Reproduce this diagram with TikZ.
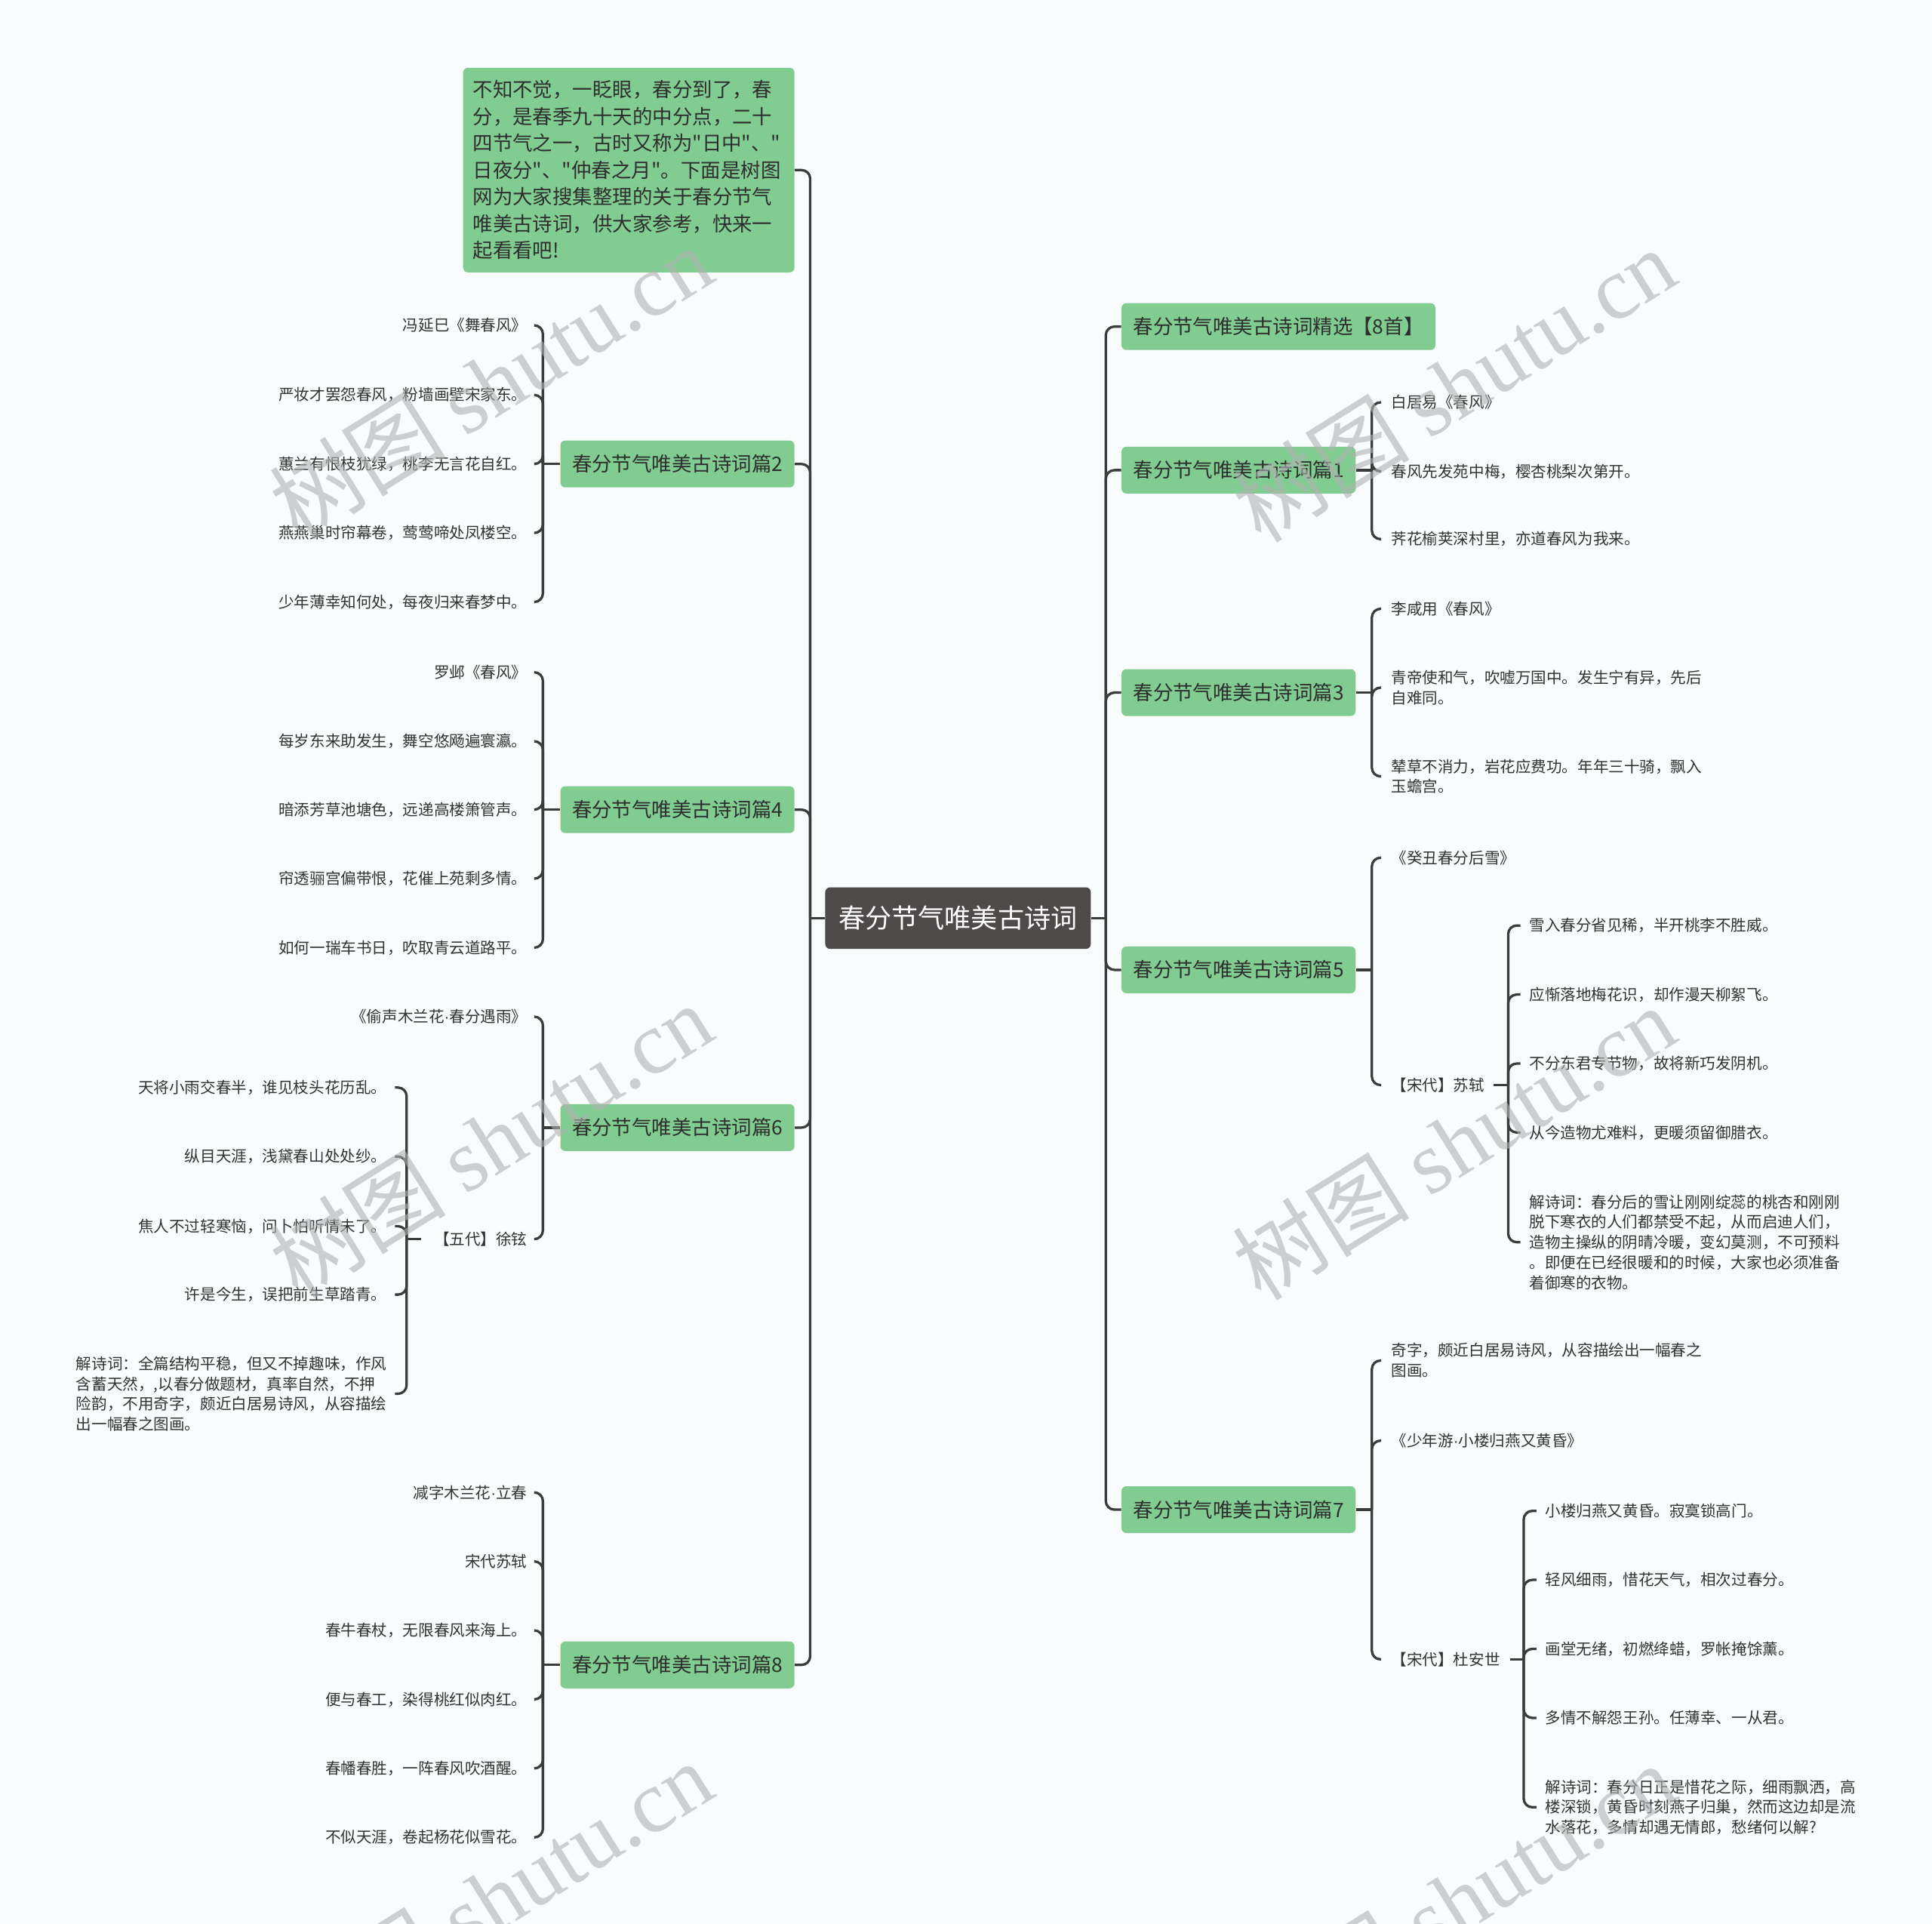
\documentclass[tikz,border=0pt]{standalone}
\usepackage{fontspec}
\setmainfont{Noto Sans CJK SC}
\newfontfamily\wmlatin{Liberation Serif}
\newfontfamily\latinsans{Liberation Sans}
\usepackage{xcolor}
\usepackage{tikz}
\usetikzlibrary{positioning,calc}

% straight quote without the tex-text mapping, and a narrow middle dot
\font\introquotefont="Noto Sans CJK SC" at 16.2pt
\newcommand\sq{{\introquotefont"}}
\newcommand\narrowdot{{\latinsans ·}}

\definecolor{topicgreen}{RGB}{128,204,145}
\definecolor{rootgray}{RGB}{78,74,73}
\definecolor{linegray}{RGB}{60,60,60}
\definecolor{leafink}{RGB}{51,51,51}
\definecolor{paper}{RGB}{248,252,252}
\definecolor{wmgray}{RGB}{175,178,178}

\begin{document}
\begin{tikzpicture}[x=1pt,y=-1pt,
  conn/.style={draw=linegray,line width=2pt,rounded corners=7pt},
  rootbox/.style={fill=rootgray,text=white,rounded corners=4pt,minimum height=50pt,
    inner xsep=11pt,font=\fontsize{21.5}{26}\selectfont},
  topic/.style={fill=topicgreen,text=black!82,rounded corners=4pt,minimum height=38pt,
    inner xsep=9.5pt,font=\fontsize{16.2}{20}\selectfont},
  leaf/.style={text=leafink,inner sep=0pt,align=left,font=\fontsize{12.6}{16.4}\selectfont},
  leafL/.style={leaf,anchor=east},
  leafR/.style={leaf,anchor=west},
  wmark/.style={text=wmgray,opacity=0.6,rotate=32,font=\fontsize{72}{80}\selectfont}]
  % page
  \fill[paper] (0,0) rectangle (1568,1561);
  \useasboundingbox (0,0) rectangle (1568,1561);

  % root with its two trunk stubs
  \node[rootbox] (root) at (777.5,745) {春分节气唯美古诗词};
  \draw[conn] (root.west) -- ++(-12,0);
  \draw[conn] (root.east) -- ++(12,0);

  % main topics, left side
  \node[topic,anchor=east,text width=253pt,align=left,minimum height=166pt,inner xsep=8pt,
    font=\fontsize{16.2}{21.7}\selectfont] (intro) at (645,138)
    {不知不觉，一眨眼，春分到了，春\\分，是春季九十天的中分点，二十\\四节气之一，古时又称为\sq 日中\sq 、\sq\\日夜分\sq 、\sq 仲春之月\sq 。下面是树图\\网为大家搜集整理的关于春分节气\\唯美古诗词，供大家参考，快来一\\起看看吧!};
  \foreach \k/\yy in {2/376.5,4/657,6/915,8/1351}
    \node[topic,anchor=east] (p\k) at (645,\yy) {春分节气唯美古诗词篇\k};
  \foreach \k in {intro,p2,p4,p6,p8}
    \draw[conn] (\k.east) -| ([xshift=-12pt]root.west);

  % main topics, right side
  \node[topic,anchor=west] (title) at (910,265) {春分节气唯美古诗词精选【8首】};
  \foreach \k/\yy in {1/381.5,3/562,5/787,7/1225}
    \node[topic,anchor=west] (p\k) at (910,\yy) {春分节气唯美古诗词篇\k};
  \foreach \k in {title,p1,p3,p5,p7}
    \draw[conn] (\k.west) -| ([xshift=12pt]root.east);

  % poem 2
  \foreach \i/\yy/\txt in {1/264/冯延巳《舞春风》,2/320.5/严妆才罢怨春风，粉墙画壁宋家东。,
      3/376.5/蕙兰有恨枝犹绿，桃李无言花自红。,4/432.5/燕燕巢时帘幕卷，莺莺啼处凤楼空。,
      5/488.5/少年薄幸知何处，每夜归来春梦中。}{
    \node[leafL] (p2c\i) at (428,\yy) {\txt};
    \draw[conn] ([xshift=5.5pt]p2c\i.east) -| ([xshift=-14pt]p2.west);
  }
  \draw[conn] (p2.west) -- ++(-14,0);

  % poem 4
  \foreach \i/\yy/\txt in {1/545.5/罗邺《春风》,2/601.5/每岁东来助发生，舞空悠飏遍寰瀛。,
      3/657/暗添芳草池塘色，远递高楼箫管声。,4/713/帘透骊宫偏带恨，花催上苑剩多情。,
      5/769/如何一瑞车书日，吹取青云道路平。}{
    \node[leafL] (p4c\i) at (428,\yy) {\txt};
    \draw[conn] ([xshift=5.5pt]p4c\i.east) -| ([xshift=-14pt]p4.west);
  }
  \draw[conn] (p4.west) -- ++(-14,0);

  % poem 6
  \node[leafL] (p6c1) at (428,825) {《偷声木兰花\narrowdot 春分遇雨》};
  \node[leafL] (p6c2) at (428,1005.5) {【五代】徐铉};
  \foreach \i in {1,2}
    \draw[conn] ([xshift=5.5pt]p6c\i.east) -| ([xshift=-14pt]p6.west);
  \draw[conn] (p6.west) -- ++(-14,0);
  \foreach \i/\yy/\txt in {1/882.5/天将小雨交春半，谁见枝头花历乱。,2/938.5/纵目天涯，浅黛春山处处纱。,
      3/995/焦人不过轻寒恼，问卜怕听情未了。,4/1050.5/许是今生，误把前生草踏青。,
      5/1131/{解诗词：全篇结构平稳，但又不掉趣味，作风\\含蓄天然，,以春分做题材，真率自然，不押\\险韵，不用奇字，颇近白居易诗风，从容描绘\\出一幅春之图画。}}{
    \node[leafL] (p6s\i) at (314,\yy) {\txt};
    \draw[conn] ([xshift=6.5pt]p6s\i.east) -| ([xshift=-22pt]p6c2.west);
  }
  \draw[conn] ([xshift=-10pt]p6c2.west) -- ++(-12,0);

  % poem 8
  \foreach \i/\yy/\txt in {1/1211/减字木兰花\narrowdot 立春,2/1267/宋代苏轼,3/1323/春牛春杖，无限春风来海上。,
      4/1379/便与春工，染得桃红似肉红。,5/1435/春幡春胜，一阵春风吹酒醒。,
      6/1491/不似天涯，卷起杨花似雪花。}{
    \node[leafL] (p8c\i) at (428,\yy) {\txt};
    \draw[conn] ([xshift=5.5pt]p8c\i.east) -| ([xshift=-14pt]p8.west);
  }
  \draw[conn] (p8.west) -- ++(-14,0);

  % poem 1
  \foreach \i/\yy/\txt in {1/326.5/白居易《春风》,2/382.5/春风先发苑中梅，樱杏桃梨次第开。,
      3/437.5/荠花榆荚深村里，亦道春风为我来。}{
    \node[leafR] (p1c\i) at (1129,\yy) {\txt};
    \draw[conn] ([xshift=-8pt]p1c\i.west) -| ([xshift=13pt]p1.east);
  }
  \draw[conn] (p1.east) -- ++(13,0);

  % poem 3
  \foreach \i/\yy/\txt in {1/494/李咸用《春风》,2/558/{青帝使和气，吹嘘万国中。发生宁有异，先后\\自难同。},
      3/630/{辇草不消力，岩花应费功。年年三十骑，飘入\\玉蟾宫。}}{
    \node[leafR] (p3c\i) at (1129,\yy) {\txt};
    \draw[conn] ([xshift=-8pt]p3c\i.west) -| ([xshift=13pt]p3.east);
  }
  \draw[conn] (p3.east) -- ++(13,0);

  % poem 5
  \node[leafR] (p5c1) at (1129,696) {《癸丑春分后雪》};
  \node[leafR] (p5c2) at (1129,880.5) {【宋代】苏轼};
  \foreach \i in {1,2}
    \draw[conn] ([xshift=-8pt]p5c\i.west) -| ([xshift=13pt]p5.east);
  \draw[conn] (p5.east) -- ++(13,0);
  \foreach \i/\yy/\txt in {1/751/雪入春分省见稀，半开桃李不胜威。,2/807/应惭落地梅花识，却作漫天柳絮飞。,
      3/863/不分东君专节物，故将新巧发阴机。,4/919/从今造物尤难料，更暖须留御腊衣。,
      5/1008/{解诗词：春分后的雪让刚刚绽蕊的桃杏和刚刚\\脱下寒衣的人们都禁受不起，从而启迪人们，\\造物主操纵的阴晴冷暖，变幻莫测，不可预料\\。即便在已经很暖和的时候，大家也必须准备\\着御寒的衣物。}}{
    \node[leafR] (p5s\i) at (1241,\yy) {\txt};
    \draw[conn] ([xshift=-7pt]p5s\i.west) -| ([xshift=19pt]p5c2.east);
  }
  \draw[conn] ([xshift=7pt]p5c2.east) -- ++(12,0);

  % poem 7
  \node[leafR] (p7c1) at (1129,1104) {奇字，颇近白居易诗风，从容描绘出一幅春之\\图画。};
  \node[leafR] (p7c2) at (1129,1169) {《少年游\narrowdot 小楼归燕又黄昏》};
  \node[leafR] (p7c3) at (1129,1346.5) {【宋代】杜安世};
  \foreach \i in {1,2,3}
    \draw[conn] ([xshift=-8pt]p7c\i.west) -| ([xshift=13pt]p7.east);
  \draw[conn] (p7.east) -- ++(13,0);
  \foreach \i/\yy/\txt in {1/1226/小楼归燕又黄昏。寂寞锁高门。,2/1282/轻风细雨，惜花天气，相次过春分。,
      3/1338/画堂无绪，初燃绛蜡，罗帐掩馀薰。,4/1394/多情不解怨王孙。任薄幸、一从君。,
      5/1466.5/{解诗词：春分日正是惜花之际，细雨飘洒，高\\楼深锁，黄昏时刻燕子归巢，然而这边却是流\\水落花，多情却遇无情郎，愁绪何以解?}}{
    \node[leafR] (p7s\i) at (1254,\yy) {\txt};
    \draw[conn] ([xshift=-7pt]p7s\i.west) -| ([xshift=19pt]p7c3.east);
  }
  \draw[conn] ([xshift=8pt]p7c3.east) -- ++(11,0);

  % watermarks
  \foreach \wx/\wy [count=\w] in {398/310,1180/312,398/925,1180/927,398/1540,1180/1542}
    \node[wmark] (wm\w) at (\wx,\wy) {树图 {\wmlatin shutu.cn}};
\end{tikzpicture}
\end{document}
